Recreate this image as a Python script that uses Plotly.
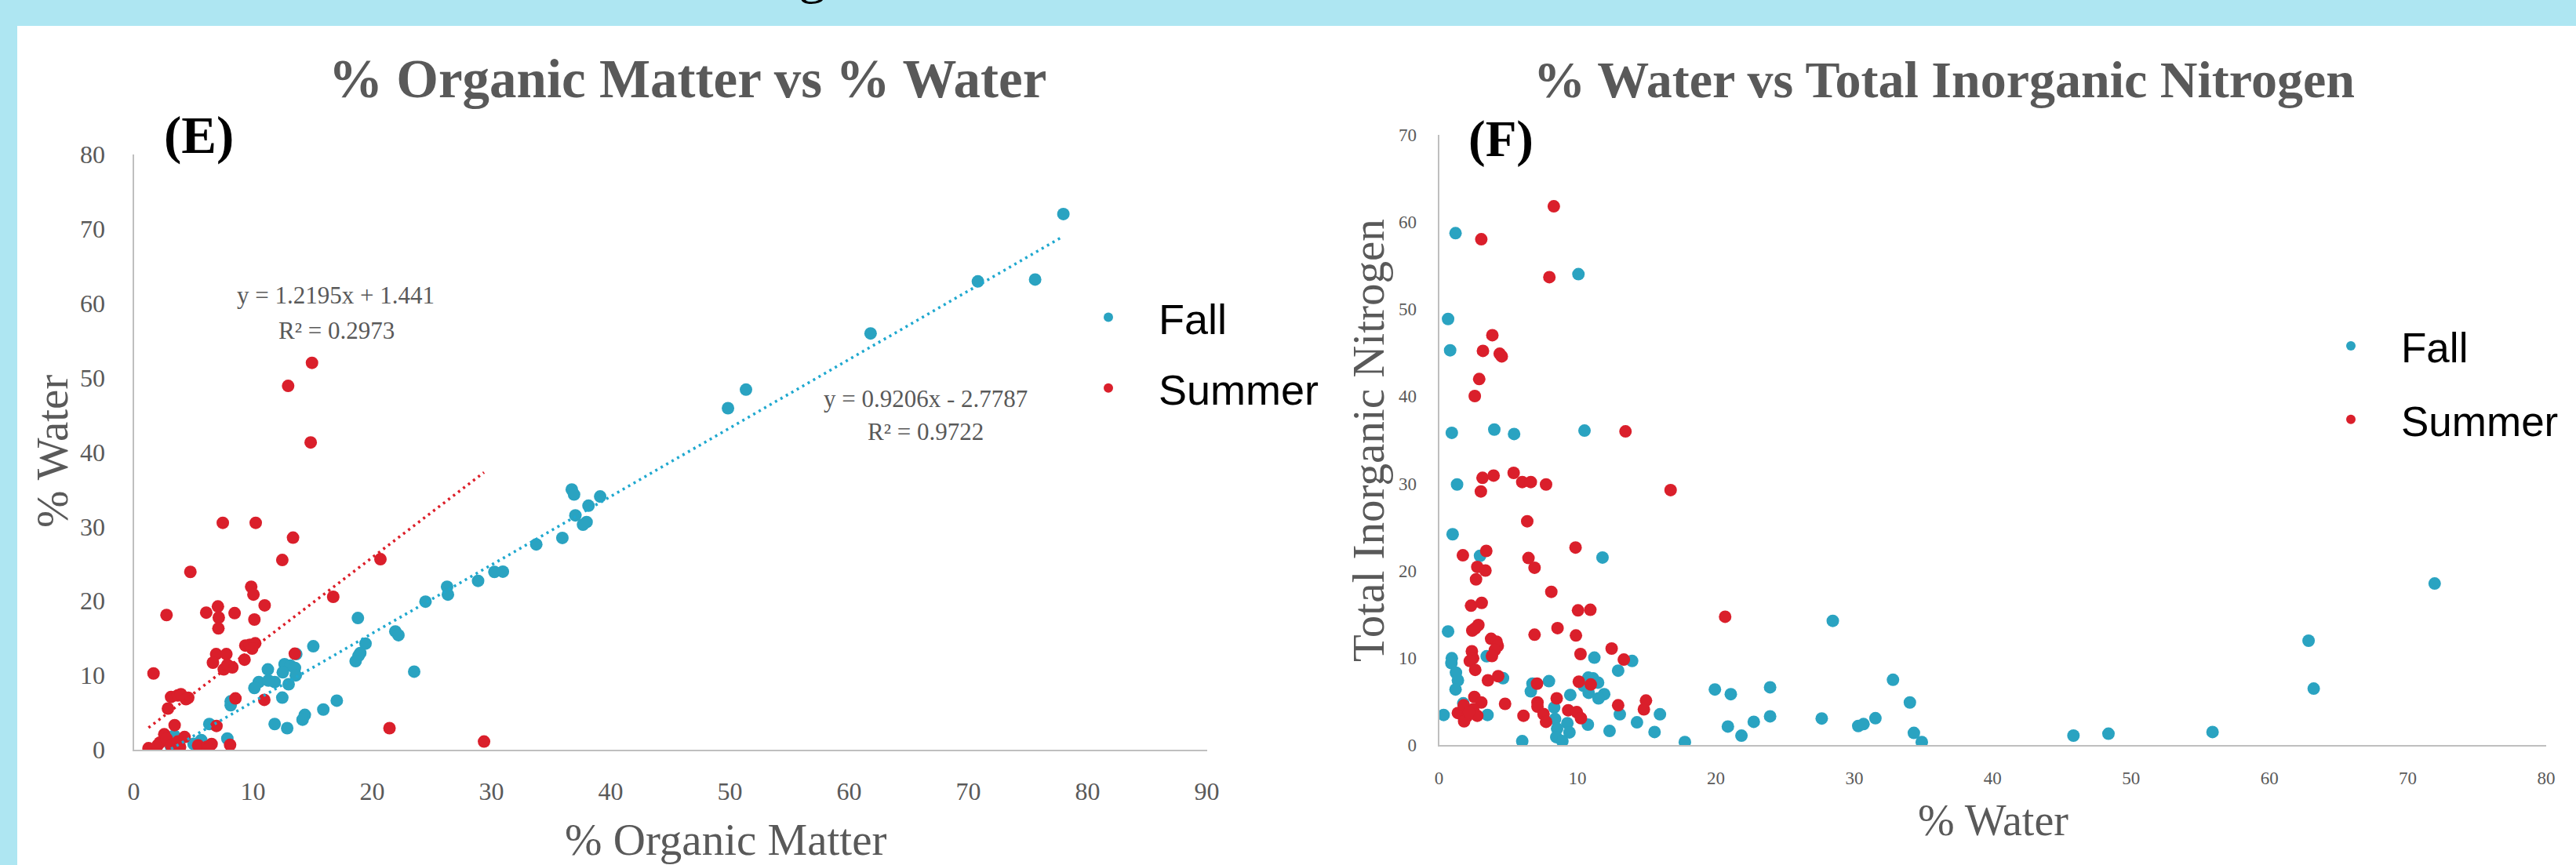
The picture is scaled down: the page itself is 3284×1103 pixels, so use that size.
import plotly.graph_objects as go

# ---------------- data ----------------
# Panel E: % Organic Matter (x) vs % Water (y)
om_fall = [36.74, 36.93, 39.12, 38.14, 37.04, 37.98, 37.68, 35.95, 33.76, 30.25, 30.96, 28.88, 26.28, 26.35,
           24.47, 18.8, 21.94, 22.2, 19.44, 15.06, 19.0, 18.84, 18.61, 13.63, 12.65, 13.14, 13.52, 11.25,
           12.5, 13.59, 23.52, 10.49, 11.82, 11.29, 10.12, 12.99, 12.46, 17.03, 15.9, 8.13, 8.13, 14.35,
           14.16, 11.82, 12.87, 6.34, 7.85, 5.66, 3.39, 5.02, 3.13, 77.97, 70.8, 75.6, 61.8, 51.35, 49.84]
water_fall = [34.97, 34.3, 34.04, 32.8, 31.5, 30.6, 30.25, 28.47, 27.6, 23.9, 23.93, 22.7, 21.9, 20.85,
              19.9, 17.7, 15.9, 15.4, 14.26, 13.9, 13.0, 12.6, 11.9, 12.85, 11.5, 11.3, 11.0, 10.8,
              10.4, 10.0, 10.5, 9.1, 9.1, 9.3, 8.3, 8.8, 7.0, 6.6, 5.4, 6.5, 5.98, 4.68,
              4.04, 3.45, 2.9, 3.45, 1.5, 1.3, 1.9, 0.78, 0.4, 72.0, 62.94, 63.2, 55.95, 48.4, 45.9]

om_summer = [14.84, 7.47, 10.23, 13.36, 12.46, 20.69, 4.75, 9.85, 10.04, 16.73, 10.98, 7.06, 2.75, 6.08,
             8.46, 7.13, 10.12, 7.1, 9.36, 9.74, 10.19, 9.93, 1.66, 6.91, 7.77, 6.64, 9.29, 13.51,
             7.55, 8.27, 7.85, 3.13, 3.7, 3.96, 4.57, 4.38, 2.87, 3.43, 6.94, 8.53, 10.95, 21.45,
             29.38, 8.08, 1.24, 1.62, 2.0, 2.19, 2.56, 2.75, 3.13, 3.7, 3.88, 4.26, 5.4, 6.15,
             6.53, 6.26, 14.95, 12.95]
water_summer = [41.3, 30.5, 30.5, 28.5, 25.5, 25.6, 23.9, 21.9, 20.85, 20.55, 19.4, 19.25, 18.1, 18.43,
                18.36, 17.76, 17.5, 16.3, 14.0, 14.1, 14.3, 13.6, 10.25, 12.85, 12.85, 11.7, 12.1, 12.9,
                10.8, 11.07, 11.4, 7.1, 7.3, 7.46, 6.98, 6.8, 5.53, 3.3, 3.2, 6.9, 6.7, 2.9,
                1.1, 0.65, 0.2, 0.0, 0.58, 0.95, 2.07, 1.5, 0.58, 1.1, 0.37, 1.7, 0.58, 0.4,
                0.77, 0.1, 52.0, 48.9]

# Excel trendline coefficients shown on the chart
fall_slope, fall_intercept, fall_r2 = 0.9206, -2.7787, 0.9722
summer_slope, summer_intercept, summer_r2 = 1.2195, 1.441, 0.2973

# Panel F: % Water (x) vs Total Inorganic Nitrogen (y)
water_fall_f = [1.19, 10.07, 0.65, 0.80, 0.92, 3.99, 5.42, 10.51, 1.30, 0.98, 2.96, 11.81, 28.45, 0.65,
                0.92, 0.89, 3.44, 11.22, 13.95, 12.94, 1.22, 1.36, 1.19, 4.62, 7.94, 6.75, 10.78, 11.13,
                11.49, 10.45, 6.63, 10.81, 9.48, 11.93, 11.52, 19.93, 21.08, 23.92, 32.8, 34.02, 1.75, 8.32,
                0.33, 3.5, 13.06, 15.96, 23.92, 27.65, 31.53, 30.29, 30.67, 8.38, 9.27, 10.75, 14.3, 22.74,
                20.87, 8.53, 9.42, 12.32, 15.57, 21.85, 34.31, 8.47, 8.91, 6.01, 17.76, 34.88, 71.94, 62.83,
                63.2, 55.89, 48.37, 45.84]
tin_fall = [58.7, 54.0, 48.86, 45.27, 35.8, 36.18, 35.67, 36.06, 29.88, 24.17, 21.7, 21.5, 14.24, 13.03,
            9.95, 9.38, 10.18, 10.02, 9.64, 8.53, 8.3, 7.42, 6.37, 7.67, 7.32, 7.04, 7.73, 7.64,
            7.16, 6.78, 6.15, 5.99, 5.74, 5.83, 5.35, 6.37, 5.83, 6.62, 7.48, 4.88, 4.78, 4.31,
            3.45, 3.45, 3.52, 3.52, 3.29, 3.04, 3.07, 2.18, 2.4, 2.98, 2.5, 2.34, 2.6, 2.66,
            2.12, 1.87, 1.45, 1.61, 1.49, 1.07, 1.39, 0.91, 0.44, 0.44, 0.34, 0.34, 18.52, 11.96,
            6.47, 1.49, 1.3, 1.08]

water_summer_f = [8.29, 3.05, 7.97, 3.85, 3.17, 4.38, 4.53, 2.90, 2.58, 13.47, 5.39, 3.14, 3.94, 6.01,
                  6.63, 7.73, 3.02, 16.73, 6.37, 9.86, 3.41, 1.72, 6.46, 2.76, 6.9, 3.35, 2.67, 8.11,
                  3.08, 2.31, 10.04, 10.93, 20.67, 2.84, 2.40, 2.61, 8.56, 6.9, 9.89, 3.76, 4.15, 4.24,
                  4.03, 3.82, 12.47, 2.37, 2.46, 2.22, 10.22, 13.35, 2.61, 3.53, 4.27, 7.08, 10.1, 10.96,
                  2.55, 3.05, 4.77, 7.11, 7.11, 8.5, 14.95, 14.8, 12.94, 9.33, 9.95, 10.25, 7.55, 7.73,
                  6.1, 1.36, 1.78, 2.02, 1.81, 2.46, 2.76, 2.16]
tin_summer = [61.78, 58.0, 53.66, 47.0, 45.2, 44.87, 44.57, 41.97, 40.02, 35.97, 31.21, 30.64, 30.9, 30.16,
              30.16, 29.88, 29.08, 29.24, 25.66, 22.65, 22.26, 21.76, 21.44, 20.42, 20.33, 20.01, 19.0, 17.57,
              16.3, 15.98, 15.44, 15.51, 14.71, 13.76, 13.13, 13.38, 13.41, 12.65, 12.56, 12.18, 11.86, 11.38,
              10.9, 10.21, 11.06, 10.75, 9.95, 9.64, 10.43, 9.8, 8.62, 7.42, 7.89, 7.04, 7.26, 6.94,
              5.51, 4.88, 4.72, 4.88, 4.4, 5.35, 5.1, 4.09, 4.56, 3.99, 3.77, 3.07, 3.55, 2.66,
              3.36, 3.67, 4.56, 3.3, 2.72, 4.09, 3.36, 3.77]

e_x_ticks = [0, 10, 20, 30, 40, 50, 60, 70, 80, 90]
e_y_ticks = [0, 10, 20, 30, 40, 50, 60, 70, 80]
f_x_ticks = [0, 10, 20, 30, 40, 50, 60, 70, 80]
f_y_ticks = [0, 10, 20, 30, 40, 50, 60, 70]

# ---------------- style ----------------
W, H = 3284, 1103
FALL = "#2AA3C1"
SUMMER = "#DA1F2B"
FALL_LINE = "#1FA8CF"
SUMMER_LINE = "#DC1E28"
GREY = "#595959"
AXIS = "#BFBFBF"
SERIF = "Liberation Serif, Times New Roman, serif"
SANS = "Liberation Sans, Arial, sans-serif"
BAND = "#AEE6F2"


def px_x(p):
    return p / W


def px_y(p):
    return 1 - p / H


fig = go.Figure()

# Panel E scatter
fig.add_trace(go.Scatter(x=om_fall, y=water_fall, mode="markers", name="Fall",
                         marker=dict(color=FALL, size=16, line=dict(width=0)),
                         xaxis="x", yaxis="y", legend="legend", legendgroup="ef"))
fig.add_trace(go.Scatter(x=om_summer, y=water_summer, mode="markers", name="Summer",
                         marker=dict(color=SUMMER, size=16, line=dict(width=0)),
                         xaxis="x", yaxis="y", legend="legend", legendgroup="es"))

# trendlines (Excel linear fits over each series' x-range)
fx = [min(om_fall), max(om_fall)]
sx = [min(om_summer), max(om_summer)]
fig.add_trace(go.Scatter(x=fx, y=[fall_slope * v + fall_intercept for v in fx], mode="lines",
                         line=dict(color=FALL_LINE, width=3.5, dash="3px,5px"), showlegend=False,
                         hoverinfo="skip", xaxis="x", yaxis="y"))
fig.add_trace(go.Scatter(x=sx, y=[summer_slope * v + summer_intercept for v in sx], mode="lines",
                         line=dict(color=SUMMER_LINE, width=3.5, dash="3px,5px"), showlegend=False,
                         hoverinfo="skip", xaxis="x", yaxis="y"))

# Panel F scatter
fig.add_trace(go.Scatter(x=water_fall_f, y=tin_fall, mode="markers", name="Fall",
                         marker=dict(color=FALL, size=16, line=dict(width=0)),
                         xaxis="x2", yaxis="y2", legend="legend2", legendgroup="ff"))
fig.add_trace(go.Scatter(x=water_summer_f, y=tin_summer, mode="markers", name="Summer",
                         marker=dict(color=SUMMER, size=16, line=dict(width=0)),
                         xaxis="x2", yaxis="y2", legend="legend2", legendgroup="fs"))

axis_common = dict(showline=True, linecolor=AXIS, linewidth=2, showgrid=False, zeroline=False,
                   ticks="", fixedrange=True, automargin=False)

fig.update_layout(
    width=W, height=H,
    margin=dict(l=0, r=0, t=0, b=0, pad=0),
    paper_bgcolor="white", plot_bgcolor="white",
    xaxis=dict(domain=[px_x(170.5), px_x(1538.5)], range=[0, 90], tickvals=e_x_ticks,
               tickfont=dict(family=SERIF, size=32, color=GREY), ticklabelstandoff=24,
               anchor="y", **axis_common),
    yaxis=dict(domain=[px_y(956), px_y(197)], range=[0, 80], tickvals=e_y_ticks,
               tickfont=dict(family=SERIF, size=32, color=GREY), ticklabelstandoff=28,
               anchor="x", **axis_common),
    xaxis2=dict(domain=[px_x(1834.6), px_x(3246)], range=[0, 80], tickvals=f_x_ticks,
                tickfont=dict(family=SERIF, size=23, color=GREY), ticklabelstandoff=20,
                anchor="y2", **axis_common),
    yaxis2=dict(domain=[px_y(950), px_y(171.7)], range=[0, 70], tickvals=f_y_ticks,
                tickfont=dict(family=SERIF, size=23, color=GREY), ticklabelstandoff=22,
                anchor="x2", **axis_common),
    legend=dict(x=px_x(1349), y=px_y(363), xanchor="left", yanchor="top",
                font=dict(family=SANS, size=54, color="black"), itemwidth=118,
                itemsizing="constant", tracegroupgap=17, bgcolor="rgba(0,0,0,0)"),
    legend2=dict(x=px_x(2933), y=px_y(400), xanchor="left", yanchor="top",
                 font=dict(family=SANS, size=53, color="black"), itemwidth=118,
                 itemsizing="constant", tracegroupgap=22, bgcolor="rgba(0,0,0,0)"),
    showlegend=True,
)

# light-blue slide border (top band and left strip)
fig.add_shape(type="rect", xref="paper", yref="paper", x0=0, x1=1, y0=px_y(33), y1=1,
              fillcolor=BAND, line=dict(width=0), layer="below")
fig.add_shape(type="rect", xref="paper", yref="paper", x0=0, x1=px_x(22), y0=0, y1=1,
              fillcolor=BAND, line=dict(width=0), layer="below")


def ann(text, x, y, size, color=GREY, family=SERIF, angle=0, xanchor="center", yanchor="middle"):
    fig.add_annotation(text=text, xref="paper", yref="paper", x=px_x(x), y=px_y(y),
                       xanchor=xanchor, yanchor=yanchor, showarrow=False, textangle=angle,
                       font=dict(family=family, size=size, color=color))


# slide heading descender peeking into the top band
ann("g", 1035, 7, 70, color="black", yanchor="bottom")

# chart titles
ann("<b>% Organic Matter vs % Water</b>", 877, 101, 69)
ann("<b>% Water vs Total Inorganic Nitrogen</b>", 2478, 101, 66)

# panel letters
ann("<b>(E)</b>", 254, 172, 67, color="black")
ann("<b>(F)</b>", 1914, 177, 65, color="black")

# axis titles
ann("% Organic Matter", 925, 1070, 57)
ann("% Water", 66, 576, 57, angle=-90)
ann("% Water", 2541, 1046, 56)
ann("Total Inorganic Nitrogen", 1744, 562, 57, angle=-90)

# trendline labels
ann(f"y = {summer_slope}x + {summer_intercept}", 428, 377, 31)
ann(f"R² = {summer_r2}", 429, 421, 31)
ann(f"y = {fall_slope}x - {abs(fall_intercept)}", 1180, 508, 31)
ann(f"R² = {fall_r2}", 1180, 551, 31)

# remove the browser's default page margin so the figure fills the window exactly
fig.write_html("out.html",
               config={"displayModeBar": False},
               post_script="document.body.style.margin='0';document.body.style.overflow='hidden';")
